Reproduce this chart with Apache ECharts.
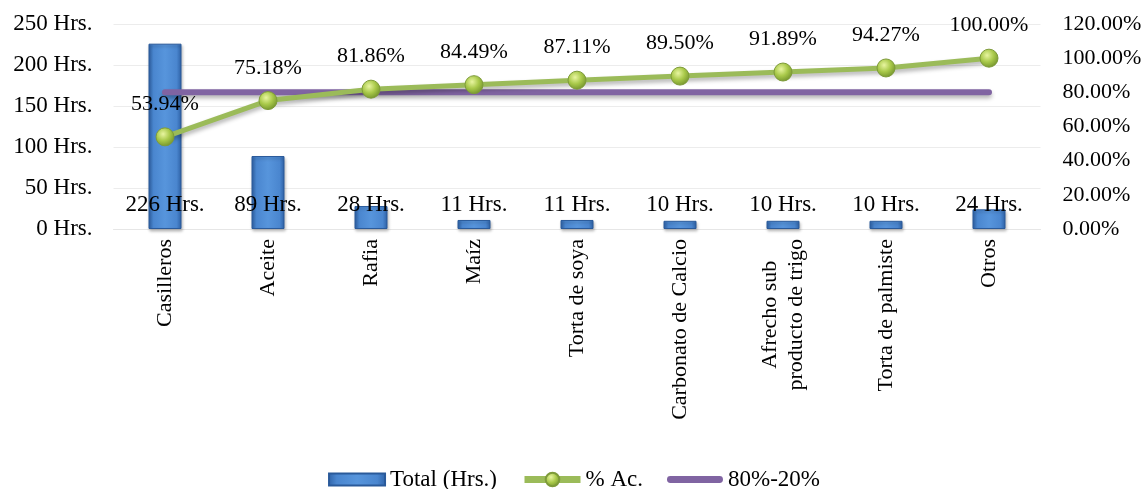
<!DOCTYPE html>
<html>
<head>
<meta charset="utf-8">
<script src="https://cdn.jsdelivr.net/npm/echarts@6/dist/echarts.min.js"></script>
<style>
  html, body { margin: 0; padding: 0; background: #fff; }
  #chart { width: 1148px; height: 489px; }
</style>
</head>
<body>
<div id="chart"></div>
<script>
// Pareto of downtime hours by material
const categories = ['Casilleros', 'Aceite', 'Rafia', 'Maíz', 'Torta de soya',
  'Carbonato de Calcio', 'Afrecho sub\nproducto de trigo', 'Torta de palmiste', 'Otros'];
const totalHours = [226, 89, 28, 11, 11, 10, 10, 10, 24];
const cumulativePct = [53.94, 75.18, 81.86, 84.49, 87.11, 89.50, 91.89, 94.27, 100.00];
const cutoffPct = [80, 80, 80, 80, 80, 80, 80, 80, 80];
const hoursTicks = { min: 0, max: 250, interval: 50 };
const pctTicks = { min: 0, max: 120, interval: 20 };

const FONT = '"Liberation Serif", "Times New Roman", serif';
const chart = echarts.init(document.getElementById('chart'));

const barFill = new echarts.graphic.LinearGradient(0, 0, 1, 0, [
  { offset: 0, color: '#2f63a8' },
  { offset: 0.15, color: '#4a86cf' },
  { offset: 0.5, color: '#5795dc' },
  { offset: 0.85, color: '#4a86cf' },
  { offset: 1, color: '#2f63a8' }
]);
const markerFill = new echarts.graphic.RadialGradient(0.4, 0.35, 0.7, [
  { offset: 0, color: '#e8f5a0' },
  { offset: 0.5, color: '#a9c94a' },
  { offset: 1, color: '#6f8f2a' }
]);

// legend glyphs: flat bar swatch and a rounded thick stroke
const barIcon = 'path://M0,0 L51,0 L51,11 L0,11 Z';
const strokeIcon = 'path://M3.5,0 L54.5,0 A3.5,3.5 0 0 1 54.5,7 L3.5,7 A3.5,3.5 0 0 1 3.5,0 Z';

chart.setOption({
  backgroundColor: '#ffffff',
  textStyle: { fontFamily: FONT, color: '#000' },
  grid: { left: 113.5, right: 107.5, top: 24, bottom: 260 },
  legend: {
    bottom: -7,
    left: 'center',
    itemWidth: 56,
    itemHeight: 17,
    itemGap: 24,
    textStyle: { fontFamily: FONT, fontSize: 23, color: '#000' },
    data: [
      { name: 'Total (Hrs.)', icon: barIcon },
      { name: '% Ac.', lineStyle: { width: 7 } },
      { name: '80%-20%', icon: strokeIcon }
    ]
  },
  xAxis: {
    type: 'category',
    data: categories,
    axisLine: { show: true, lineStyle: { color: '#e6e6e6', width: 1 } },
    axisTick: { show: false },
    axisLabel: {
      interval: 0,
      rotate: 90,
      margin: 10,
      fontFamily: FONT,
      fontSize: 22,
      color: '#000',
      formatter: v => v.split('\n').map(s => '{c|' + s + '}').join('\n'),
      rich: { c: { align: 'center', fontFamily: FONT, fontSize: 22, lineHeight: 26, color: '#000' } }
    }
  },
  yAxis: [
    {
      type: 'value',
      min: hoursTicks.min, max: hoursTicks.max, interval: hoursTicks.interval,
      axisLine: { show: false },
      axisTick: { show: false },
      splitLine: { show: true, lineStyle: { color: '#ececec', width: 1 } },
      axisLabel: { margin: 21, fontFamily: FONT, fontSize: 23, color: '#000',
        formatter: v => v + ' Hrs.' }
    },
    {
      type: 'value',
      min: pctTicks.min, max: pctTicks.max, interval: pctTicks.interval,
      axisLine: { show: false },
      axisTick: { show: false },
      splitLine: { show: false },
      axisLabel: { margin: 22, fontFamily: FONT, fontSize: 22, color: '#000',
        formatter: v => v.toFixed(2) + '%' }
    }
  ],
  series: [
    {
      name: 'Total (Hrs.)',
      type: 'bar',
      data: totalHours,
      barWidth: 33,
      itemStyle: {
        color: barFill,
        borderColor: '#2a5a9a',
        borderWidth: 1,
        shadowColor: 'rgba(0,0,0,0.25)',
        shadowBlur: 3,
        shadowOffsetX: 1,
        shadowOffsetY: 2
      },
      label: {
        show: true,
        position: 'insideBottom',
        distance: 13,
        fontFamily: FONT,
        fontSize: 23,
        color: '#000',
        formatter: p => p.value + ' Hrs.'
      },
      z: 2
    },
    {
      name: '% Ac.',
      type: 'line',
      yAxisIndex: 1,
      data: cumulativePct,
      symbol: 'circle',
      symbolSize: 18,
      lineStyle: {
        color: '#9bbb59', width: 5,
        shadowColor: 'rgba(0,0,0,0.3)', shadowBlur: 4, shadowOffsetY: 3
      },
      itemStyle: { color: markerFill, borderColor: '#7e9b3a', borderWidth: 1 },
      label: {
        show: true,
        position: 'top',
        distance: 12,
        fontFamily: FONT,
        fontSize: 22,
        color: '#000',
        formatter: p => p.value.toFixed(2) + '%'
      },
      z: 4
    },
    {
      name: '80%-20%',
      type: 'line',
      yAxisIndex: 1,
      data: cutoffPct,
      symbol: 'none',
      lineStyle: {
        color: '#8064a2', width: 6, cap: 'round',
        shadowColor: 'rgba(0,0,0,0.3)', shadowBlur: 4, shadowOffsetY: 3
      },
      itemStyle: { color: '#8064a2' },
      z: 3
    }
  ]
});
</script>
</body>
</html>
